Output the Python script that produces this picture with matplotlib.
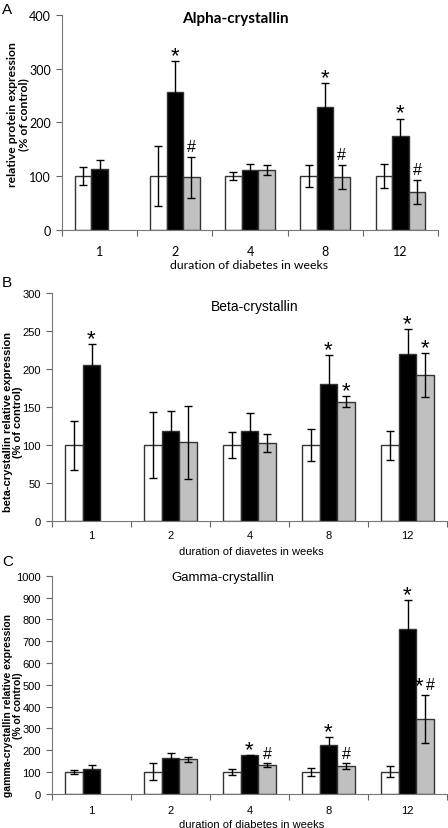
import numpy as np
import matplotlib.pyplot as plt

weeks = ['1', '2', '4', '8', '12']

# panel A - alpha-crystallin
alpha_ctrl = [100, 100, 100, 100, 100]
alpha_ctrl_err = [17, 56, 8, 21, 22]
alpha_diab = [113, 257, 111, 229, 175]
alpha_diab_err = [16, 57, 11, 44, 32]
alpha_treat = [np.nan, 98, 111, 98, 70]
alpha_treat_err = [np.nan, 38, 10, 23, 23]
alpha_marks_diab = ['', '*', '', '*', '*']
alpha_marks_treat = ['', '#', '', '#', '#']

# panel B - beta-crystallin
beta_ctrl = [100, 100, 100, 100, 100]
beta_ctrl_err = [32, 43, 17, 21, 19]
beta_diab = [205, 118, 119, 181, 220]
beta_diab_err = [28, 27, 23, 37, 33]
beta_treat = [np.nan, 104, 103, 157, 192]
beta_treat_err = [np.nan, 48, 12, 7, 29]
beta_marks_diab = ['*', '', '', '*', '*']
beta_marks_treat = ['', '', '', '*', '*']

# panel C - gamma-crystallin
gamma_ctrl = [100, 100, 100, 100, 100]
gamma_ctrl_err = [8, 38, 13, 18, 26]
gamma_diab = [114, 163, 175, 223, 758]
gamma_diab_err = [18, 22, 3, 35, 131]
gamma_treat = [np.nan, 157, 131, 126, 343]
gamma_treat_err = [np.nan, 12, 9, 14, 110]
gamma_marks_diab = ['', '', '*', '*', '*']
gamma_marks_treat = ['', '', '#', '#', '*#']


def put_mark(ax, px, top, mark):
    # '*' and '#' have different sizes / heights in the original
    n = len(mark)
    for i, ch in enumerate(mark):
        dx = (i - (n - 1) / 2) * 8
        if ch == '*':
            dy = 0 if n == 1 else 3
            ax.annotate(ch, (px, top), xytext=(dx, dy), textcoords='offset points',
                        ha='center', va='baseline', fontsize=16,
                        family='Liberation Sans')
        else:
            ax.annotate(ch, (px, top), xytext=(dx, 4), textcoords='offset points',
                        ha='center', va='baseline', fontsize=11.5,
                        family='Liberation Sans')


def draw_panel(ax, ctrl, ctrl_err, diab, diab_err, treat, treat_err,
               marks_d, marks_t, ymax, ystep, font, tick_fs, tick_pad):
    x = np.arange(len(weeks))
    w = 0.22
    groups = [(x - w, ctrl, ctrl_err, 'white', None),
              (x, diab, diab_err, 'black', marks_d),
              (x + w, treat, treat_err, '#c0c0c0', marks_t)]
    for pos, vals, errs, col, marks in groups:
        vals = np.array(vals, dtype=float)
        errs = np.array(errs, dtype=float)
        ok = ~np.isnan(vals)
        ax.bar(pos[ok], vals[ok], w, color=col, edgecolor='#333333',
               linewidth=1.0, zorder=2)
        ax.errorbar(pos[ok], vals[ok], yerr=errs[ok], fmt='none',
                    ecolor='black', elinewidth=1.0, capsize=3,
                    capthick=1.0, zorder=3)
        if marks is None:
            continue
        for px, v, e, m in zip(pos, vals, errs, marks):
            if m:
                put_mark(ax, px, v + e, m)

    ax.set_xlim(-0.5, len(weeks) - 0.5)
    ax.set_ylim(0, ymax)
    ax.set_yticks(np.arange(0, ymax + 1, ystep))
    ax.set_xticks(np.arange(-0.5, len(weeks)), minor=False)
    ax.set_xticklabels([])
    ax.set_xticks(x, minor=True)
    ax.set_xticklabels(weeks, minor=True, family=font, fontsize=tick_fs)
    ax.tick_params(axis='x', which='minor', length=0, pad=tick_pad)
    ax.tick_params(axis='x', which='major', length=4, color='#666666',
                   direction='out')
    ax.tick_params(axis='y', length=4, color='#666666', labelsize=tick_fs,
                   pad=4)
    for lab in ax.get_yticklabels():
        lab.set_family(font)
    for s in ['top', 'right']:
        ax.spines[s].set_visible(False)
    for s in ['left', 'bottom']:
        ax.spines[s].set_color('#777777')


fig = plt.figure(figsize=(4.48, 8.29), dpi=100)
ax_a = fig.add_axes([0.1384, 0.7217, 0.8393, 0.259])
ax_b = fig.add_axes([0.1161, 0.370, 0.8817, 0.2754])
ax_c = fig.add_axes([0.1161, 0.0416, 0.8817, 0.2624])

draw_panel(ax_a, alpha_ctrl, alpha_ctrl_err, alpha_diab, alpha_diab_err,
           alpha_treat, alpha_treat_err, alpha_marks_diab, alpha_marks_treat,
           400, 100, 'Lato', 9, 11)
ax_a.text(0.46, 0.986, 'Alpha-crystallin', transform=ax_a.transAxes,
          ha='center', va='center', family='Lato', fontweight='bold', fontsize=11)
ax_a.set_ylabel('relative protein expression\n(% of control)', family='Lato',
                fontsize=8.7, fontweight='bold', linespacing=0.95, va='center')
ax_a.yaxis.set_label_coords(-0.117, 0.54)
ax_a.set_xlabel('duration of diabetes in weeks', family='Lato', fontsize=8.8,
                va='center')
ax_a.xaxis.set_label_coords(0.497, -0.164)

draw_panel(ax_b, beta_ctrl, beta_ctrl_err, beta_diab, beta_diab_err,
           beta_treat, beta_treat_err, beta_marks_diab, beta_marks_treat,
           300, 50, 'Liberation Sans', 8, 6)
ax_b.text(0.514, 0.943, 'Beta-crystallin', transform=ax_b.transAxes,
          ha='center', va='center', family='Liberation Sans', fontsize=10)
ax_b.set_ylabel('beta-crystallin relative expression\n(% of control)',
                family='Liberation Sans', fontsize=8, fontweight='bold',
                linespacing=0.95, va='center')
ax_b.yaxis.set_label_coords(-0.099, 0.44)
ax_b.set_xlabel('duration of diavetes in weeks', family='Liberation Sans',
                fontsize=8, va='center')
ax_b.xaxis.set_label_coords(0.504, -0.129)

draw_panel(ax_c, gamma_ctrl, gamma_ctrl_err, gamma_diab, gamma_diab_err,
           gamma_treat, gamma_treat_err, gamma_marks_diab, gamma_marks_treat,
           1000, 100, 'Liberation Sans', 8, 8.5)
ax_c.text(0.433, 0.995, 'Gamma-crystallin', transform=ax_c.transAxes,
          ha='center', va='center', family='Liberation Sans', fontsize=9.5)
ax_c.set_ylabel('gamma-crystallin relative expression\n(% of control)',
                family='Liberation Sans', fontsize=7.5, fontweight='bold',
                linespacing=0.95, va='center')
ax_c.yaxis.set_label_coords(-0.099, 0.41)
ax_c.set_xlabel('duration of diabetes in weeks', family='Liberation Sans',
                fontsize=8, va='center')
ax_c.xaxis.set_label_coords(0.506, -0.140)

fig.text(0.004, 0.988, 'A', fontsize=11, family='Liberation Sans', va='center')
fig.text(0.004, 0.659, 'B', fontsize=11, family='Liberation Sans', va='center')
fig.text(0.004, 0.322, 'C', fontsize=11, family='Liberation Sans', va='center')

fig.savefig('out.png', dpi=100)
